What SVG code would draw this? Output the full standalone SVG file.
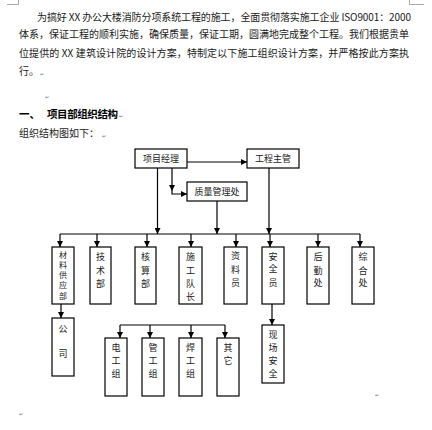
<svg xmlns="http://www.w3.org/2000/svg" width="432" height="430" viewBox="0 0 432 430">
<style>
.t{font-family:"Noto Sans CJK SC","Liberation Sans",sans-serif;font-size:10px;fill:#1a1a1a}
.h{font-family:"Noto Sans CJK SC","Liberation Sans",sans-serif;font-size:10.5px;font-weight:bold;fill:#000}
.pm{font-family:"DejaVu Sans",sans-serif;font-size:5px;fill:#777}
.box{fill:#fff;stroke:#000;stroke-width:1.2}
.bt{font-family:"Noto Sans CJK SC","Liberation Sans",sans-serif;font-size:9px;fill:#1a1a1a;text-anchor:middle}
.sm{font-size:8px}
.c{fill:none;stroke:#000;stroke-width:1.2}
.corner{fill:none;stroke:#aaa;stroke-width:1}
</style>
<defs>
<marker id="ah" viewBox="0 0 6 6" refX="6" refY="3" markerWidth="6" markerHeight="6" markerUnits="userSpaceOnUse" orient="auto">
<path d="M0,0 L6,3 L0,6 z" fill="#000"/>
</marker>
</defs>
<rect width="432" height="430" fill="#fff"/>
<g id="corners">
<path class="corner" d="M7,4.5 H18.5 V0"/>
<path class="corner" d="M409.5,0 V4.5 H424"/>
</g>
<g id="text">
<text class="t" x="37" y="20.5" textLength="374" lengthAdjust="spacing">为搞好 XX 办公大楼消防分项系统工程的施工，全面贯彻落实施工企业 ISO9001：2000</text>
<text class="t" x="19" y="38" textLength="390" lengthAdjust="spacing">体系，保证工程的顺利实施，确保质量，保证工期，圆满地完成整个工程。我们根据贵单</text>
<text class="t" x="19" y="57" textLength="390" lengthAdjust="spacing">位提供的 XX 建筑设计院的设计方案，特制定以下施工组织设计方案，并严格按此方案执</text>
<text class="t" x="19" y="74.5">行。</text>
<text class="pm" x="40" y="76">↵</text>
<text class="pm" x="45" y="99">↵</text>
<text class="h" x="19" y="118">一、</text>
<text class="h" x="47" y="118" textLength="71" lengthAdjust="spacing">项目部组织结构</text>
<text class="pm" x="119" y="118">↵</text>
<text class="t" x="19" y="137">组织结构图如下：</text>
<text class="pm" x="102" y="138">↵</text>
<text class="pm" x="19" y="416">↵</text>
<text class="pm" x="375" y="397">↵</text>
</g>
<g id="connectors">
<path class="c" d="M187,162 H247" marker-end="url(#ah)"/>
<path class="c" d="M172,168 V191" marker-end="url(#ah)"/>
<path class="c" d="M172,191 V194 H187" marker-end="url(#ah)"/>
<path class="c" d="M157.5,168 V234" marker-end="url(#ah)"/>
<path class="c" d="M217,201 V234" marker-end="url(#ah)"/>
<path class="c" d="M269,168 V234" marker-end="url(#ah)"/>
<path class="c" d="M60,234 H360"/>
<path class="c" d="M60,234 V247" marker-end="url(#ah)"/>
<path class="c" d="M97,234 V247" marker-end="url(#ah)"/>
<path class="c" d="M147,234 V247" marker-end="url(#ah)"/>
<path class="c" d="M191,234 V247" marker-end="url(#ah)"/>
<path class="c" d="M236,234 V247" marker-end="url(#ah)"/>
<path class="c" d="M270,234 V247" marker-end="url(#ah)"/>
<path class="c" d="M318,234 V247" marker-end="url(#ah)"/>
<path class="c" d="M360,234 V247" marker-end="url(#ah)"/>
<path class="c" d="M61,304 V318" marker-end="url(#ah)"/>
<path class="c" d="M272,304 V325" marker-end="url(#ah)"/>
<path class="c" d="M120,325 H225"/>
<path class="c" d="M120,325 V338" marker-end="url(#ah)"/>
<path class="c" d="M150,325 V338" marker-end="url(#ah)"/>
<path class="c" d="M191,325 V338" marker-end="url(#ah)"/>
<path class="c" d="M225,325 V338" marker-end="url(#ah)"/>
</g>
<g id="n-xmjl"><rect class="box" x="135" y="149" width="52" height="19"/><text class="bt" x="161" y="162">项目经理</text></g>
<g id="n-gczg"><rect class="box" x="247" y="149" width="52" height="19"/><text class="bt" x="273" y="162">工程主管</text></g>
<g id="n-zlglc"><rect class="box" x="187" y="182" width="60" height="19"/><text class="bt" x="217" y="195">质量管理处</text></g>
<g id="n-clgyb"><rect class="box" x="52" y="247" width="22" height="57"/>
<text class="bt sm" x="63" y="257.5">材</text><text class="bt sm" x="63" y="267.8">料</text><text class="bt sm" x="63" y="278.1">供</text><text class="bt sm" x="63" y="288.4">应</text><text class="bt sm" x="63" y="298.5">部</text></g>
<g id="n-jsb"><rect class="box" x="90" y="247" width="21" height="57"/>
<text class="bt" x="100.5" y="260">技</text><text class="bt" x="100.5" y="273.5">术</text><text class="bt" x="100.5" y="287">部</text></g>
<g id="n-hsb"><rect class="box" x="135" y="247" width="21" height="57"/>
<text class="bt" x="145.5" y="260">核</text><text class="bt" x="145.5" y="273.5">算</text><text class="bt" x="145.5" y="287">部</text></g>
<g id="n-sgdz"><rect class="box" x="179" y="247" width="23" height="57"/>
<text class="bt" x="190.5" y="260">施</text><text class="bt" x="190.5" y="273.5">工</text><text class="bt" x="190.5" y="287">队</text><text class="bt" x="190.5" y="300">长</text></g>
<g id="n-zly"><rect class="box" x="224" y="247" width="23" height="57"/>
<text class="bt" x="235.5" y="259">资</text><text class="bt" x="235.5" y="273">料</text><text class="bt" x="235.5" y="286">员</text></g>
<g id="n-aqy"><rect class="box" x="262" y="247" width="22" height="57"/>
<text class="bt" x="273" y="260">安</text><text class="bt" x="273" y="272">全</text><text class="bt" x="273" y="286">员</text></g>
<g id="n-hqc"><rect class="box" x="307" y="247" width="22" height="57"/>
<text class="bt" x="318" y="260">后</text><text class="bt" x="318" y="273.5">勤</text><text class="bt" x="318" y="286">处</text></g>
<g id="n-zhc"><rect class="box" x="352" y="247" width="22" height="57"/>
<text class="bt" x="363" y="260">综</text><text class="bt" x="363" y="273.5">合</text><text class="bt" x="363" y="286">处</text></g>
<g id="n-gs"><rect class="box" x="52" y="318" width="22" height="58"/>
<text class="bt" x="63" y="332">公</text><text class="bt" x="63" y="357">司</text></g>
<g id="n-dgz"><rect class="box" x="105" y="338" width="22" height="58"/>
<text class="bt" x="116" y="351">电</text><text class="bt" x="116" y="364">工</text><text class="bt" x="116" y="376.5">组</text></g>
<g id="n-ggz"><rect class="box" x="142" y="338" width="22" height="58"/>
<text class="bt" x="153" y="351">管</text><text class="bt" x="153" y="364">工</text><text class="bt" x="153" y="376.5">组</text></g>
<g id="n-hgz"><rect class="box" x="179" y="338" width="23" height="58"/>
<text class="bt" x="190.5" y="351">焊</text><text class="bt" x="190.5" y="364">工</text><text class="bt" x="190.5" y="376.5">组</text></g>
<g id="n-qt"><rect class="box" x="217" y="338" width="22" height="58"/>
<text class="bt" x="228" y="351">其</text><text class="bt" x="228" y="364">它</text></g>
<g id="n-xcaq"><rect class="box" x="262" y="325" width="22" height="58"/>
<text class="bt" x="273" y="338">现</text><text class="bt" x="273" y="351">场</text><text class="bt" x="273" y="364">安</text><text class="bt" x="273" y="377">全</text></g>
</svg>
